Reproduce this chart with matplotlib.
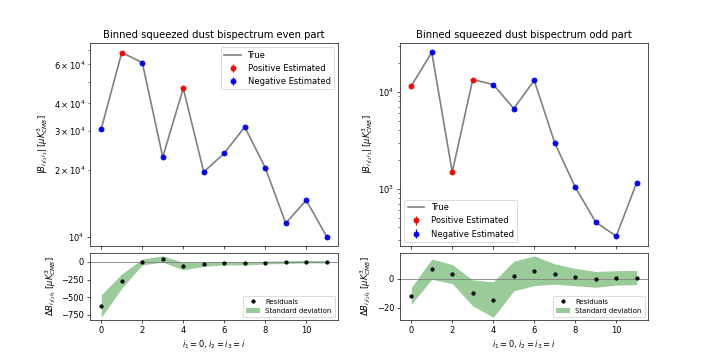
"""Binned squeezed dust bispectrum: true vs estimated, even and odd parts."""

import matplotlib

matplotlib.use("Agg")
import matplotlib.pyplot as plt
import numpy as np

# bin index i (i1 = 0, i2 = i3 = i)
bins = np.arange(12)

# signed true bispectrum values
even_true = [-3.07e4, 6.79e4, -6.12e4, -2.29e4, 4.68e4, -1.96e4, -2.38e4, -3.13e4, -2.05e4, -1.15e4, -1.46e4, -1.0e4]
odd_true = [1.15e4, -2.55e4, 1.49e3, 1.34e4, -1.19e4, -6.73e3, -1.31e4, -2.97e3, -1.04e3, -453.0, -325.0, -1.16e3]

# residuals (estimated - true) and their standard deviation
even_resid = [-624.0, -271.0, 0.0, 41.0, -59.0, -32.0, -18.0, -22.0, -8.0, -3.0, 5.0, 0.0]
even_std = [160.0, 102.0, 41.0, 45.0, 52.0, 30.0, 25.0, 22.0, 20.0, 18.0, 18.0, 17.0]
odd_resid = [-12.0, 6.6, 3.2, -9.9, -14.5, 1.8, 5.5, 3.2, 1.1, -0.5, 0.5, 0.8]
odd_std = [5.8, 7.0, 6.6, 9.0, 12.3, 10.3, 10.3, 7.0, 6.0, 5.5, 5.0, 4.9]

LABEL_TOP = r"$|B_{i_1i_2i_3}|$ [$\mu K^3_{CMB}$]"
LABEL_BOT = r"$\Delta B_{i_1i_2i_3}$ [$\mu K^3_{CMB}$]"


def draw(ax_top, ax_bot, true, resid, std, title, legend_loc):
    true = np.asarray(true)
    resid = np.asarray(resid)
    std = np.asarray(std)
    est = true  # estimated points sit on the true curve at this scale
    pos = est > 0
    neg = ~pos
    ax_top.plot(bins, np.abs(true), color="grey", lw=2, label="True")
    ax_top.errorbar(bins[pos], np.abs(est[pos]), yerr=std[pos], fmt="o", color="r", label="Positive Estimated")
    ax_top.errorbar(bins[neg], np.abs(est[neg]), yerr=std[neg], fmt="o", color="b", label="Negative Estimated")
    ax_top.set_yscale("log")
    ax_top.set_ylabel(LABEL_TOP)
    ax_top.set_title(title)
    ax_top.legend(loc=legend_loc)
    ax_top.tick_params(labelbottom=False)

    ax_bot.axhline(0, color="grey", lw=1)
    ax_bot.plot(bins, resid, "ko", ms=4, label="Residuals")
    ax_bot.fill_between(bins, resid - std, resid + std, color="green", alpha=0.4, lw=0, label="Standard deviation")
    ax_bot.set_ylabel(LABEL_BOT)
    ax_bot.set_xlabel(r"$i_1 = 0, i_2 = i_3 = i$")
    ax_bot.legend(loc="lower right", fontsize="small")


def main() -> None:
    fig = plt.figure(figsize=(12, 6), dpi=60)
    gs = fig.add_gridspec(2, 2, height_ratios=[3, 1], hspace=0.05, wspace=0.25)
    ax_e = fig.add_subplot(gs[0, 0])
    ax_er = fig.add_subplot(gs[1, 0], sharex=ax_e)
    ax_o = fig.add_subplot(gs[0, 1])
    ax_or = fig.add_subplot(gs[1, 1], sharex=ax_o)
    draw(ax_e, ax_er, even_true, even_resid, even_std, "Binned squeezed dust bispectrum even part", "upper right")
    draw(ax_o, ax_or, odd_true, odd_resid, odd_std, "Binned squeezed dust bispectrum odd part", "lower left")
    fig.savefig("out.png", dpi=60)


if __name__ == "__main__":
    main()
